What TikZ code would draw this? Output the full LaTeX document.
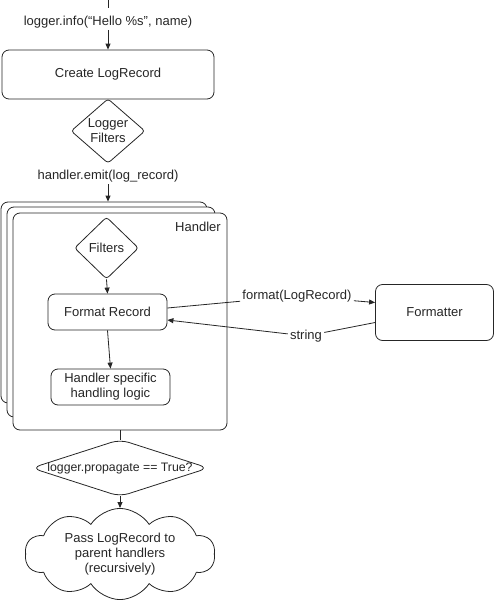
\documentclass[tikz,border=0pt]{standalone}
\usepackage{fontspec}
\setmainfont{Liberation Sans}
\usetikzlibrary{shapes.geometric,shapes.symbols,arrows.meta,calc}
\begin{document}
\begin{tikzpicture}[x=1pt,y=-1pt,
  line width=0.8pt,
  every node/.style={font=\fontsize{13}{15}\selectfont, text=black!85},
  arr/.style={draw=black!85,-{Triangle[length=6pt,width=5pt]}},
  ln/.style={draw=black!85},
  rbox/.style={draw=black!85,rounded corners=7pt,fill=white,inner sep=0pt,align=center},
  dia/.style={diamond,draw=black!85,rounded corners=3pt,fill=white,inner sep=0pt,align=center},
  lab/.style={inner sep=2pt,align=center}]
\useasboundingbox (0,0) rectangle (495,600);
% top
\coordinate (t0) at (108,0);
\coordinate (t1) at (108,8);
\draw[ln] (t0) -- (t1);
\node[lab] (info) at (108,22) {logger.info(“Hello \%s”, name)};
\node[rbox, minimum width=212pt, minimum height=49pt] (create) at (108,74.5) {Create LogRecord};
\draw[arr] (info.south) -- (create.north);
\node[dia, minimum width=74pt, minimum height=64pt] (lfilt) at (108,131) {Logger\\Filters};
\node[lab] (emit) at (108,176) {handler.emit(log\_record)};
% handler stack
\node[rbox, minimum width=206pt, minimum height=201pt] (hback) at (104,302.5) {};
\node[rbox, minimum width=208pt, minimum height=210pt] (hmid) at (111,312) {};
\node[rbox, minimum width=214pt, minimum height=217pt] (hfront) at (120,321.5) {};
\draw[arr] (emit.south) -- (emit.south |- hback.north);
\node[lab] (hlab) at (198,227) {Handler};
\node[dia, minimum width=64pt, minimum height=62pt] (filt) at (106.5,248) {Filters};
\node[rbox, minimum width=119pt, minimum height=36pt] (fmt) at (107.5,312) {Format Record};
\node[rbox, minimum width=119pt, minimum height=36pt] (spec) at (110.5,387) {Handler specific\\handling logic};
\draw[arr] (filt.south) -- (fmt.north);
\draw[arr] (fmt.south) -- (spec.north);
% formatter
\node[rbox, minimum width=118pt, minimum height=56pt] (fmtr) at (434.5,312.5) {Formatter};
\node[lab] (l1) at (297,296) {format(LogRecord)};
\node[lab] (l2) at (306,336) {string};
\draw[ln] ($(fmt.east)+(0,-4)$) -- (l1);
\draw[arr] (l1) -- ($(fmtr.west)+(0,-10)$);
\draw[ln] ($(fmtr.west)+(0,10)$) -- (l2);
\draw[arr] (l2) -- ($(fmt.east)+(0,8)$);
% propagate
\node[inner sep=0pt, minimum width=176pt, minimum height=56pt, font=\fontsize{12.3}{15}\selectfont] (prop) at (120,468) {logger.propagate == True?};
\draw[ln, rounded corners=9pt] (prop.west) -- (prop.north) -- (prop.east) -- (prop.south) -- cycle;
\draw[ln] (hfront.south -| prop.north) -- (prop.north);
\node[cloud, draw=black!85, cloud puffs=10, cloud puff arc=115, aspect=2.3, inner sep=0pt, minimum width=190pt, minimum height=82pt, align=center] (cloud) at (120,554) {Pass LogRecord to\\parent handlers\\(recursively)};
\draw[arr] (prop.south) -- (cloud.north);
\end{tikzpicture}
\end{document}
